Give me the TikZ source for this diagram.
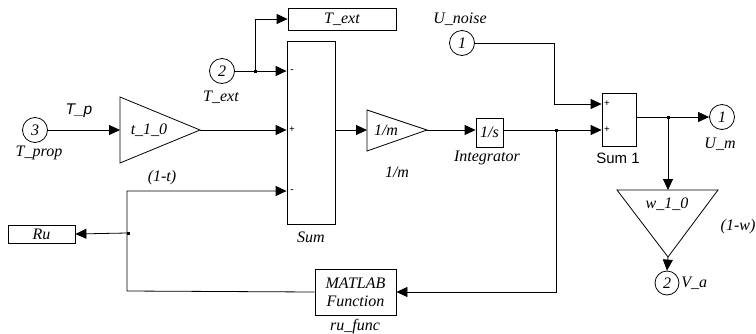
\documentclass[tikz,border=0pt]{standalone}
\usepackage{fontspec}
\setmainfont{Liberation Serif}
\setsansfont{Liberation Sans}
\usetikzlibrary{arrows.meta}
\begin{document}
\begin{tikzpicture}[x=1pt,y=-1pt,
  line width=0.8pt,
  lbl/.style={font=\fontsize{16}{18}\selectfont\itshape, inner sep=0pt},
  slbl/.style={font=\fontsize{15.5}{18}\sffamily\itshape, inner sep=0pt},
  port/.style={draw, circle, minimum size=25pt, inner sep=0pt, font=\fontsize{16}{18}\selectfont\itshape},
  blk/.style={draw, rectangle, inner sep=0pt, font=\fontsize{16}{18}\selectfont\itshape},
  sgn/.style={font=\fontsize{10}{10}\selectfont\bfseries, inner sep=0pt},
  arr/.style={-{Triangle[length=11pt,width=10pt]}},
  dot/.style={fill=black, minimum size=3pt, inner sep=0pt, rectangle}
]
\useasboundingbox (0,0) rectangle (756,333);

% ports
\node[port] (in3) at (35,130) {3};
\node[port] (in2) at (222,71) {2};
\node[port] (in1) at (462,43) {1};
\node[port] (out1) at (722,117) {1};
\node[port, minimum size=24pt] (out2) at (667,283) {2};

% blocks
\node[blk, minimum width=108pt, minimum height=22pt] (text) at (342,19) {T\_ext};
\node[blk, minimum width=48pt, minimum height=183pt] (sum) at (311,132.5) {};
\node[blk, minimum width=27pt, minimum height=29pt] (integ) at (489.5,132.5) {1/s};
\node[blk, minimum width=34pt, minimum height=53pt] (sum1) at (619,119.5) {};
\node[blk, minimum width=81pt, minimum height=46pt, align=center] (mat) at (355.5,292) {MATLAB\\[0pt]Function};
\node[blk, minimum width=67pt, minimum height=18pt] (ru) at (41.5,234) {Ru};

% gains
\draw (120,97) coordinate (g1a) -- (200,130) coordinate (g1out) -- (120,163) -- cycle;
\coordinate (g1in) at (120,130);
\node[lbl] (g1t) at (149,130) {t\_1\_0};
\draw (367,110) -- (427,130) coordinate (g2out) -- (367,151) -- cycle;
\coordinate (g2in) at (367,130);
\node[lbl] (g2t) at (386,130) {1/m};
\draw (617,190) -- (718,190) -- (668,257) coordinate (g3out) -- cycle;
\coordinate (g3in) at (668,190);
\node[lbl] (g3t) at (667,204) {w\_1\_0};

% signs
\node[sgn] (s1) at (292,71) {-};
\node[sgn] (s2) at (292,130) {+};
\node[sgn] (s3) at (292,191) {-};
\node[sgn] (s4) at (607,104) {+};
\node[sgn] (s5) at (607,130) {+};

% branch points
\coordinate (b1) at (255,71);
\coordinate (b2) at (556,130);
\coordinate (b3) at (668,117);
\coordinate (b4) at (127,233);
\node[dot] (d1) at (b1) {};
\node[dot] (d2) at (b2) {};
\node[dot] (d3) at (b3) {};
\node[dot] (d4) at (128.5,233) {};
\coordinate (c1) at (554,43);
\coordinate (c2) at (127,291);
\coordinate (c3) at (127,191);

% connectors
\draw[arr] (in3.east) -- (g1in);
\draw[arr] (g1out) -- (sum.west |- g1out);
\draw[arr] (in2.east) -- (sum.west |- in2);
\draw[arr] (b1) |- (text.west);
\draw[arr] (sum.east |- g2in) -- (g2in);
\draw[arr] (g2out) -- (integ.west |- g2out);
\draw[arr] (integ.east |- g2out) -- (sum1.west |- g2out);
\draw[arr] (in1.east) -- (c1) |- (sum1.west |- 0,104);
\draw[arr] (sum1.east |- out1) -- (out1.west);
\draw[arr] (b3) -- (g3in);
\draw[arr] (g3out) -- (out2.north);
\draw[arr] (b2) |- (mat.east);
\draw[arr] (mat.west) -- (c2) -- (c3) -- (sum.west |- c3);
\draw[arr] (b4) -- (ru.east);

% labels
\node[lbl] (l1) at (39,153) {T\_prop};
\node[slbl] (l2) at (79,111) {T\_p};
\node[lbl] (l3) at (221,97) {T\_ext};
\node[lbl] (l4) at (311,237) {Sum};
\node[lbl] (l5) at (397,172) {1/m};
\node[lbl] (l6) at (487,158) {Integrator};
\node[lbl] (l7) at (460,19) {U\_noise};
\node[font=\fontsize{15}{18}\sffamily, inner sep=0pt] (l8) at (618,158) {Sum 1};
\node[lbl] (l9) at (720,144) {U\_m};
\node[lbl] (l10) at (738,227) {(1-w)};
\node[lbl, anchor=west] (l11) at (681,283) {V\_a};
\node[lbl] (l12) at (162,178) {(1-t)};
\node[lbl] (l13) at (355,327) {ru\_func};
\end{tikzpicture}
\end{document}
